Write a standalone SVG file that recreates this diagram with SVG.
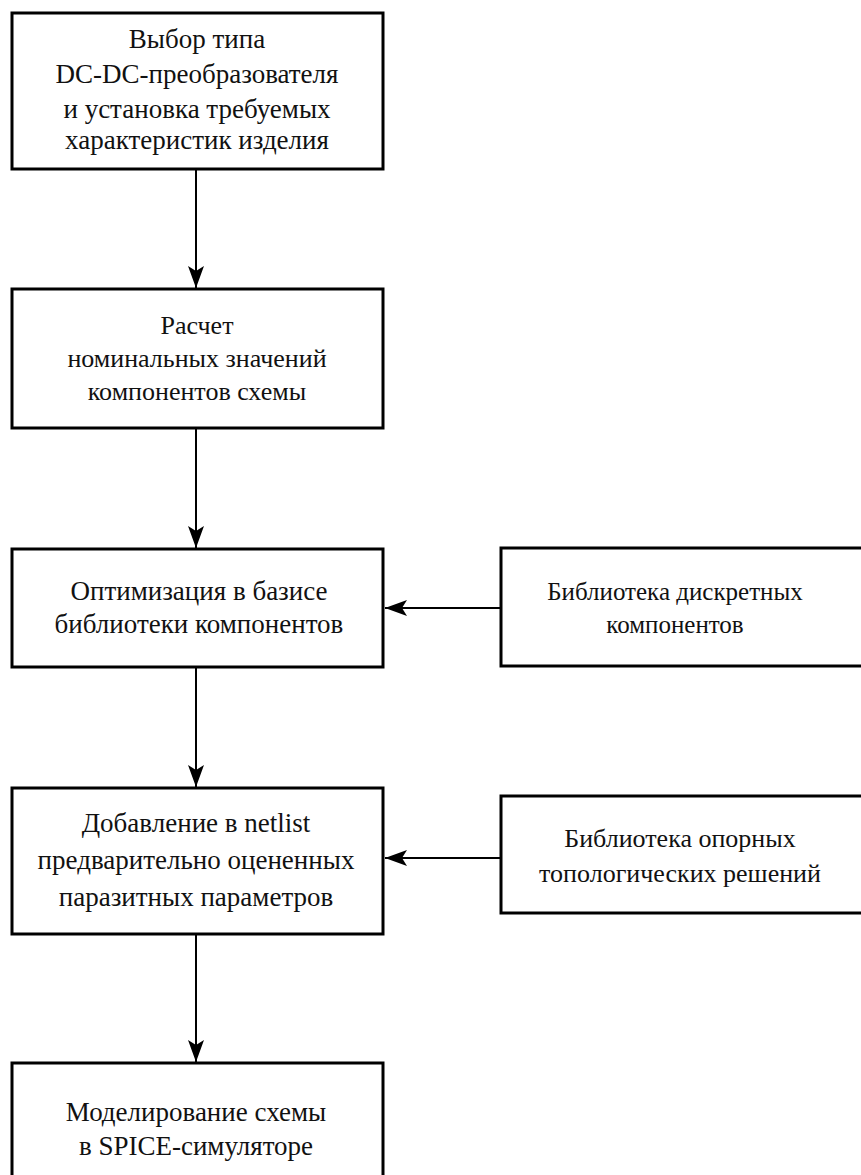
<svg xmlns="http://www.w3.org/2000/svg" width="861" height="1175" viewBox="0 0 861 1175">
<defs>
<style>
.box{fill:#fff;stroke:#000;stroke-width:3}
.t{font-family:'Liberation Serif','Times New Roman',serif;font-size:27px;fill:#111;text-anchor:middle}
.s{font-size:25px}
.m{font-size:26px}
.c{stroke:#000;stroke-width:2;fill:none}
</style>
<marker id="ah" viewBox="0 0 22 16" refX="22" refY="8" markerWidth="22" markerHeight="16" markerUnits="userSpaceOnUse" orient="auto">
<path d="M0,0 L22,8 L0,16 L5,8 Z" fill="#000"/>
</marker>
</defs>
<rect width="861" height="1175" fill="#fff"/>
<g id="connectors">
<line class="c" x1="196" y1="169" x2="196" y2="288" marker-end="url(#ah)"/>
<line class="c" x1="196" y1="428" x2="196" y2="548" marker-end="url(#ah)"/>
<line class="c" x1="196" y1="667" x2="196" y2="787" marker-end="url(#ah)"/>
<line class="c" x1="196" y1="934" x2="196" y2="1062" marker-end="url(#ah)"/>
<line class="c" x1="500" y1="608" x2="385" y2="608" marker-end="url(#ah)"/>
<line class="c" x1="500" y1="858" x2="385" y2="858" marker-end="url(#ah)"/>
</g>
<g id="n1">
<rect class="box" x="12" y="13" width="371" height="156"/>
<text class="t" x="197" y="48">Выбор типа</text>
<text class="t" x="197" y="83">DC-DC-преобразователя</text>
<text class="t" x="197" y="118">и установка требуемых</text>
<text class="t" x="197" y="149">характеристик изделия</text>
</g>
<g id="n2">
<rect class="box" x="12" y="289" width="371" height="139"/>
<text class="t m" x="197" y="334">Расчет</text>
<text class="t m" x="197" y="367">номинальных значений</text>
<text class="t m" x="197" y="400">компонентов схемы</text>
</g>
<g id="n3">
<rect class="box" x="12" y="549" width="371" height="118"/>
<text class="t" x="199" y="600">Оптимизация в базисе</text>
<text class="t" x="199" y="633">библиотеки компонентов</text>
</g>
<g id="n4">
<rect class="box" x="501" y="548" width="362" height="118"/>
<text class="t s" x="675" y="600">Библиотека дискретных</text>
<text class="t s" x="675" y="633">компонентов</text>
</g>
<g id="n5">
<rect class="box" x="12" y="788" width="371" height="146"/>
<text class="t" x="196" y="832">Добавление в netlist</text>
<text class="t" x="196" y="869">предварительно оцененных</text>
<text class="t" x="196" y="906">паразитных параметров</text>
</g>
<g id="n6">
<rect class="box" x="501" y="796" width="362" height="117"/>
<text class="t m" x="680" y="847">Библиотека опорных</text>
<text class="t m" x="680" y="882">топологических решений</text>
</g>
<g id="n7">
<rect class="box" x="12" y="1063" width="371" height="130"/>
<text class="t" x="196" y="1121">Моделирование схемы</text>
<text class="t" x="196" y="1155">в SPICE-симуляторе</text>
</g>
</svg>
